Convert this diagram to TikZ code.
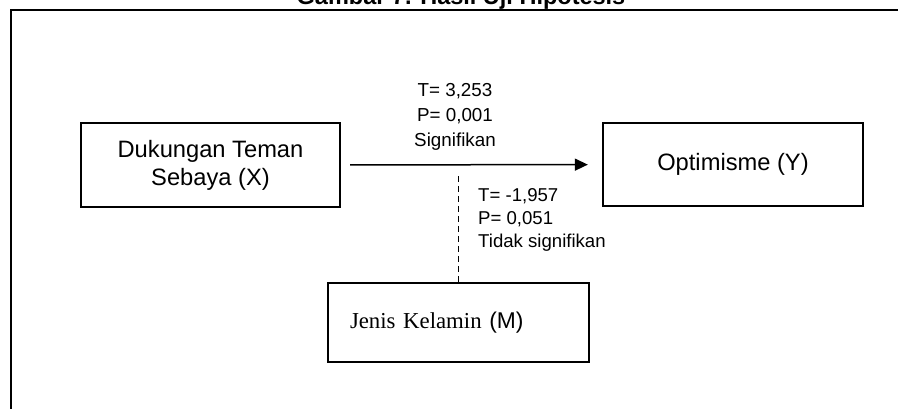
\documentclass[tikz,border=0pt]{standalone}
\usepackage{fontspec}
\setmainfont{Liberation Serif}
\setsansfont{Liberation Sans}
\usepackage{tikz}
\usetikzlibrary{calc,positioning,arrows.meta}

\begin{document}
\begin{tikzpicture}[
    x=1pt, y=-1pt,
    font=\sffamily,
    var/.style={rectangle, draw=black, line width=2.3pt, inner sep=0pt,
      minimum width=260pt, minimum height=83pt, align=center,
      font=\sffamily\fontsize{23.7}{28}\selectfont},
    moder/.style={rectangle, draw=black, line width=2.3pt, inner xsep=22pt, inner ysep=0pt,
      text width=217pt, minimum height=79pt, align=left,
      font=\rmfamily\fontsize{22.8}{28}\selectfont},
    stat/.style={inner sep=0pt, font=\sffamily\fontsize{18.8}{25}\selectfont},
    effect/.style={-{Triangle[length=13pt,width=12pt]}, line width=1.5pt, black},
    nosig/.style={line width=1.7pt, black, dash pattern=on 6pt off 4pt},
  ]

  \useasboundingbox (0,0) rectangle (898,409);

  % frame and title
  \draw[line width=2.3pt] (11,420) -- (11,10) -- (910,10);
  \node (title) [anchor=base, font=\sffamily\bfseries\fontsize{23.5}{28}\selectfont]
    at (461,5) {Gambar 7. Hasil Uji Hipotesis};

  % variables
  \node (xbox) [var, minimum width=259pt, minimum height=84pt] at (210.5,165) {Dukungan Teman\\Sebaya (X)};
  \node (ybox) [var] at (733,164.5) {Optimisme (Y)};
  \node (mbox) [moder, minimum width=261pt] at (458.5,322.5) {Jenis Kelamin {\sffamily(M)}};

  % results
  \node (sig)   [stat, align=center] at (455,117) {T= 3,253\\P= 0,001\\Signifikan};
  \node (nsig)  [stat, align=left, anchor=west, font=\sffamily\fontsize{18.6}{23}\selectfont]
    at (478,220) {T= -1,957\\P= 0,051\\Tidak signifikan};

  \coordinate (split) at (mbox.north |- 0,173);

  % flow
  \draw[effect, shorten <=9pt, shorten >=14pt] (xbox) -- (ybox);
  \draw[nosig] (mbox.north) -- (split);

\end{tikzpicture}
\end{document}
